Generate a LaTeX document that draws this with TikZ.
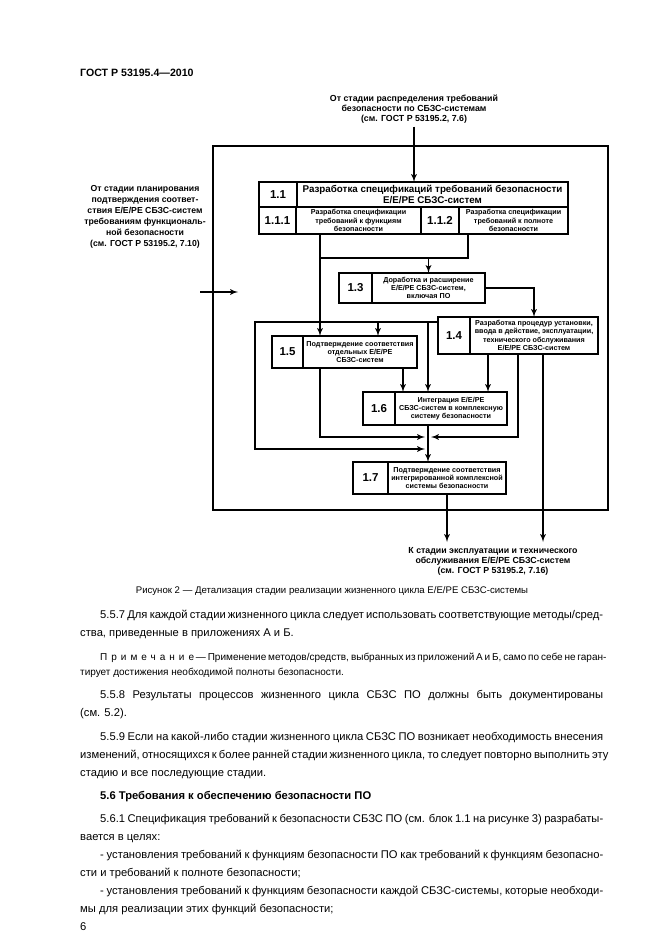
\documentclass[tikz,border=0pt]{standalone}
\usepackage{fontspec}
\setmainfont{Liberation Sans}
\usetikzlibrary{arrows,positioning}

\newcommand{\jl}[2]{\makebox[#1][s]{#2}}

\begin{document}
\begin{tikzpicture}[x=1pt,y=-1pt,>=latex',
  num/.style={draw,line width=1.7pt,inner sep=0pt,outer sep=0pt,anchor=north west,
    font=\bfseries\fontsize{11.5}{12}\selectfont},
  txt/.style={draw,line width=1.7pt,inner sep=0pt,outer sep=0pt,anchor=north west,
    align=center,font=\bfseries\fontsize{7.2}{8.2}\selectfont},
  lbl/.style={align=center,font=\bfseries\fontsize{8.8}{10}\selectfont},
  link/.style={->,line width=1.7pt},
  bodyline/.style={anchor=base west,inner sep=0pt,font=\fontsize{11.2}{14}\selectfont},
  noteline/.style={anchor=base west,inner sep=0pt,font=\fontsize{10}{12}\selectfont}]

\useasboundingbox (0,0) rectangle (661,936);
\fill[white] (0,0) rectangle (661,936);

\node[anchor=base west,inner sep=0pt,font=\bfseries\fontsize{10.6}{12}\selectfont] (head) at (80,77) {ГОСТ Р 53195.4—2010};

% outer frame
\node[draw,line width=1.4pt,outer sep=0pt,anchor=north west,minimum width=395pt,minimum height=364pt] (frame) at (213,146) {};

% block 1.1
\node[num,minimum width=38pt,minimum height=25pt] (n11) at (259,182) {1.1};
\node[txt,minimum width=271pt,minimum height=25pt,font=\bfseries\fontsize{9.8}{10.5}\selectfont] (t11) at (n11.north east)
  {Разработка спецификаций требований безопасности\\Е/Е/РЕ СБЗС-систем};
\node[num,minimum width=37pt,minimum height=27pt] (n111) at (n11.south west) {1.1.1};
\node[txt,minimum width=125pt,minimum height=27pt] (t111) at (n111.north east)
  {Разработка спецификации\\требований к функциям\\безопасности};
\node[num,minimum width=38pt,minimum height=27pt] (n112) at (t111.north east) {1.1.2};
\node[txt,minimum width=109pt,minimum height=27pt] (t112) at (n112.north east)
  {Разработка спецификации\\требований к полноте\\безопасности};

% block 1.3
\node[num,minimum width=33pt,minimum height=30pt] (n13) at (339,273) {1.3};
\node[txt,minimum width=113pt,minimum height=30pt] (t13) at (n13.north east)
  {Доработка и расширение\\Е/Е/РЕ СБЗС-систем,\\включая ПО};

% block 1.4
\node[num,minimum width=32pt,minimum height=37pt] (n14) at (438,317) {1.4};
\node[txt,minimum width=128pt,minimum height=37pt] (t14) at (n14.north east)
  {Разработка процедур установки,\\ввода в действие, эксплуатации,\\технического обслуживания\\Е/Е/РЕ СБЗС-систем};

% block 1.5
\node[num,minimum width=31pt,minimum height=32pt] (n15) at (272,336) {1.5};
\node[txt,minimum width=114pt,minimum height=32pt] (t15) at (n15.north east)
  {Подтверждение соответствия\\отдельных Е/Е/РЕ\\СБЗС-систем};

% block 1.6
\node[num,minimum width=32pt,minimum height=33pt] (n16) at (363,392) {1.6};
\node[txt,minimum width=112pt,minimum height=33pt] (t16) at (n16.north east)
  {Интеграция Е/Е/РЕ\\СБЗС-систем в комплексную\\систему безопасности};

% block 1.7
\node[num,minimum width=35pt,minimum height=32pt] (n17) at (353,462) {1.7};
\node[txt,minimum width=118pt,minimum height=32pt,font=\bfseries\fontsize{7.2}{7.6}\selectfont] (t17) at (n17.north east)
  {Подтверждение соответствия\\интегрированной комплексной\\системы безопасности};

% outside labels
\node[lbl] (from6) at (414,109) {От стадии распределения требований\\безопасности по СБЗС-системам\\(см. ГОСТ Р 53195.2, 7.6)};
\node[lbl,font=\bfseries\fontsize{8.7}{11}\selectfont] (from10) at (145,217) {От стадии планирования\\подтверждения соответ-\\ствия Е/Е/РЕ СБЗС-систем\\требованиям функциональ-\\ной безопасности\\(см. ГОСТ Р 53195.2, 7.10)};
\node[lbl] (to16) at (493,561) {К стадии эксплуатации и технического\\обслуживания Е/Е/РЕ СБЗС-систем\\(см. ГОСТ Р 53195.2, 7.16)};

% junction points
\coordinate (in1) at (200,292);
\coordinate (in2) at (238,292);
\coordinate (c111) at (320,258);
\coordinate (c112) at (468,258);
\coordinate (fb) at (255,322);
\coordinate (c15) at (378,322);
\coordinate (c16) at (428,322);
\coordinate (c15b) at (403,368);
\coordinate (c14a) at (488,354);
\coordinate (c14b) at (518,354);
\coordinate (out) at (543,542);
\coordinate (j1) at (428,437);
\coordinate (j2) at (428,449);

% connectors
\draw[link] (from6.south) -- (from6.south |- t11.north);
\draw[link] (in1) -- (in2);
\draw[link] (t111.south -| c111) -- (t15.north -| c111);
\draw[line width=1.7pt] (t112.south -| c112) -- (c112) -- (c111);
\draw[link] (t13.north |- c111) -- (t13.north);
\draw[link] (t13.east) -| (t14.north);
\draw[link,shorten >=3pt] (n14.west |- fb) -- (fb) |- (j2);
\draw[link] (c15) -- (t15.north -| c15);
\draw[link] (c16) -- (t16.north -| c16);
\draw[link] (c15b) -- (t16.north -| c15b);
\draw[link] (c14a) -- (t16.north -| c14a);
\draw[link,shorten >=3pt] (t15.south -| c111) |- (j1);
\draw[link,shorten >=3pt] (c14b) |- (j1);
\draw[link] (t14.south -| out) -- (out);
\draw[link] (t16.south -| j1) -- (t17.north -| j1);
\draw[link] (t17.south) -- (t17.south |- out);

% caption
\node[anchor=base,inner sep=0pt,font=\fontsize{9.6}{12}\selectfont] (cap) at (332,593)
  {Рисунок 2 — Детализация стадии реализации жизненного цикла Е/Е/РЕ СБЗС-системы};

% text
\node[bodyline] (p1) at (100,618) {\jl{503pt}{5.5.7 Для каждой стадии жизненного цикла следует использовать соответствующие методы/сред-}};
\node[bodyline] (p1b) at (80,636) {ства, приведенные в приложениях А и Б.};
\node[noteline] (p2) at (100,660) {\jl{503pt}{{\addfontfeature{LetterSpace=40}Примечание} — Применение методов/средств, выбранных из приложений А и Б, само по себе не гаран-}};
\node[noteline] (p2b) at (80,675) {тирует достижения необходимой полноты безопасности.};
\node[bodyline] (p3) at (100,698) {\jl{503pt}{5.5.8 Результаты процессов жизненного цикла СБЗС ПО должны быть документированы}};
\node[bodyline] (p3b) at (80,716) {(см. 5.2).};
\node[bodyline] (p4) at (100,740) {\jl{503pt}{5.5.9 Если на какой-либо стадии жизненного цикла СБЗС ПО возникает необходимость внесения}};
\node[bodyline] (p4b) at (80,758) {\jl{523pt}{изменений, относящихся к более ранней стадии жизненного цикла, то следует повторно выполнить эту}};
\node[bodyline] (p4c) at (80,776) {стадию и все последующие стадии.};
\node[bodyline,font=\bfseries\fontsize{11.2}{14}\selectfont] (h56) at (100,799) {5.6 Требования к обеспечению безопасности ПО};
\node[bodyline] (p5) at (100,822) {\jl{503pt}{5.6.1 Спецификация требований к безопасности СБЗС ПО (см. блок 1.1 на рисунке 3) разрабаты-}};
\node[bodyline] (p5b) at (80,840) {вается в целях:};
\node[bodyline] (p6) at (100,858) {\jl{503pt}{- установления требований к функциям безопасности ПО как требований к функциям безопасно-}};
\node[bodyline] (p6b) at (80,876) {сти и требований к полноте безопасности;};
\node[bodyline] (p7) at (100,894) {\jl{503pt}{- установления требований к функциям безопасности каждой СБЗС-системы, которые необходи-}};
\node[bodyline] (p7b) at (80,912) {мы для реализации этих функций безопасности;};
\node[bodyline] (page) at (80,930) {6};

\end{tikzpicture}
\end{document}
